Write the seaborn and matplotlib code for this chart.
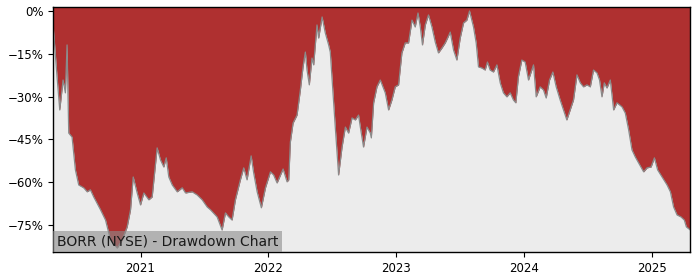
import matplotlib
matplotlib.use("Agg")
import matplotlib.pyplot as plt
import matplotlib.ticker as mticker
import numpy as np
import pandas as pd
import seaborn as sns

# Decimal-year positions
years = [
    2020.320, 2020.349, 2020.370, 2020.396, 2020.414, 2020.427, 2020.440, 2020.466, 2020.492, 2020.518,
    2020.557, 2020.584, 2020.609, 2020.635, 2020.688, 2020.727, 2020.766, 2020.818, 2020.857, 2020.896,
    2020.922, 2020.943, 2020.974, 2021.000, 2021.026, 2021.065, 2021.091, 2021.130, 2021.156, 2021.182,
    2021.201, 2021.221, 2021.248, 2021.287, 2021.326, 2021.352, 2021.404, 2021.443, 2021.482, 2021.521,
    2021.547, 2021.599, 2021.638, 2021.664, 2021.690, 2021.716, 2021.742, 2021.781, 2021.807, 2021.833,
    2021.865, 2021.885, 2021.912, 2021.945, 2021.977, 2022.016, 2022.041, 2022.068, 2022.115, 2022.146,
    2022.159, 2022.172, 2022.193, 2022.224, 2022.250, 2022.271, 2022.289, 2022.302, 2022.320, 2022.341,
    2022.354, 2022.380, 2022.393, 2022.420, 2022.445, 2022.471, 2022.484, 2022.505, 2022.523, 2022.549,
    2022.576, 2022.602, 2022.627, 2022.654, 2022.680, 2022.705, 2022.719, 2022.744, 2022.771, 2022.797,
    2022.805, 2022.823, 2022.849, 2022.875, 2022.914, 2022.940, 2022.966, 2022.992, 2023.018, 2023.044,
    2023.070, 2023.096, 2023.123, 2023.148, 2023.170, 2023.188, 2023.205, 2023.227, 2023.252, 2023.279,
    2023.305, 2023.330, 2023.357, 2023.383, 2023.401, 2023.422, 2023.448, 2023.474, 2023.500, 2023.526,
    2023.552, 2023.573, 2023.604, 2023.625, 2023.643, 2023.670, 2023.695, 2023.713, 2023.734, 2023.760,
    2023.787, 2023.813, 2023.838, 2023.865, 2023.891, 2023.916, 2023.935, 2023.955, 2023.982, 2024.008,
    2024.034, 2024.073, 2024.094, 2024.125, 2024.151, 2024.172, 2024.198, 2024.224, 2024.250, 2024.281,
    2024.307, 2024.333, 2024.359, 2024.385, 2024.412, 2024.438, 2024.463, 2024.490, 2024.516, 2024.541,
    2024.568, 2024.588, 2024.607, 2024.625, 2024.646, 2024.672, 2024.698, 2024.724, 2024.763, 2024.789,
    2024.815, 2024.841, 2024.867, 2024.893, 2024.932, 2024.959, 2024.990, 2025.016, 2025.041, 2025.076,
    2025.115, 2025.141, 2025.166, 2025.193, 2025.224, 2025.250, 2025.266, 2025.297,
]

# Drawdown from running peak, percent
drawdown = [
    -6.0, -23.1, -34.7, -24.2, -28.7, -11.9, -42.8, -44.2, -55.7, -61.0,
    -62.0, -63.4, -62.7, -65.2, -69.7, -73.3, -80.3, -83.1, -80.3, -75.7,
    -69.7, -58.2, -63.8, -68.0, -63.8, -66.2, -65.2, -48.0, -52.2, -54.7,
    -51.5, -58.2, -61.0, -63.4, -62.0, -63.8, -63.4, -64.5, -66.2, -68.7,
    -69.7, -72.2, -76.8, -70.8, -72.2, -73.3, -66.2, -59.2, -55.0, -59.2,
    -50.8, -56.8, -63.4, -69.0, -62.0, -56.4, -57.5, -60.3, -55.4, -59.9,
    -59.2, -45.9, -39.3, -36.5, -27.7, -19.6, -14.4, -20.7, -25.9, -16.5,
    -18.9, -4.9, -9.5, -2.1, -7.7, -11.9, -14.4, -28.7, -40.7, -57.5,
    -47.7, -40.7, -42.8, -37.5, -38.2, -36.5, -40.7, -47.7, -40.7, -42.8,
    -44.5, -32.2, -26.6, -24.2, -28.7, -34.7, -31.2, -26.6, -25.9, -14.7,
    -11.2, -11.2, -3.2, -5.6, -0.7, -5.6, -11.9, -4.9, -1.4, -5.6,
    -10.9, -14.7, -13.0, -11.2, -9.5, -7.4, -13.7, -17.2, -9.5, -4.2,
    -3.2, 0.0, -5.6, -11.2, -19.6, -20.0, -20.7, -17.9, -20.7, -21.4,
    -18.9, -25.2, -28.7, -30.1, -28.7, -31.2, -32.2, -23.1, -17.2, -17.9,
    -24.2, -18.9, -30.1, -26.6, -27.7, -30.5, -24.2, -21.4, -26.6, -31.2,
    -34.7, -38.2, -34.7, -31.2, -22.4, -25.2, -26.6, -25.9, -26.6, -20.7,
    -21.7, -24.2, -30.1, -25.2, -27.0, -24.2, -34.7, -32.2, -33.6, -35.8,
    -41.7, -48.7, -51.2, -53.3, -56.4, -55.0, -54.7, -51.5, -55.7, -58.2,
    -61.0, -63.4, -68.7, -71.5, -72.2, -73.3, -75.7, -76.8,
]

ytick_values = [0, -15, -30, -45, -60, -75]
xtick_years = [2021, 2022, 2023, 2024, 2025]
title_text = "BORR (NYSE) - Drawdown Chart"


def year_to_date(y):
    yr = int(np.floor(y))
    start = pd.Timestamp(year=yr, month=1, day=1)
    end = pd.Timestamp(year=yr + 1, month=1, day=1)
    return start + (end - start) * (y - yr)


df = pd.DataFrame({
    "date": [year_to_date(y) for y in years],
    "drawdown": drawdown,
})

fig = plt.figure(figsize=(7.0, 2.8), dpi=100)
ax = fig.add_axes([0.0762, 0.099, 0.9100, 0.875])
ax.set_facecolor("#ececec")

ylo, yhi = -84.6, 1.3
ax.set_ylim(ylo, yhi)
ax.fill_between(df["date"], df["drawdown"], yhi + 5, color="#af3030", linewidth=0)
sns.lineplot(data=df, x="date", y="drawdown", ax=ax, color="#8a8a8a", linewidth=0.9)

ax.set_xlim(df["date"].iloc[0], df["date"].iloc[-1])
ax.set_ylim(ylo, yhi)

ax.set_yticks(ytick_values)
ax.yaxis.set_major_formatter(mticker.FuncFormatter(
    lambda v, p: ("\u2212" if v < 0 else "") + f"{abs(v):.0f}%"))
ax.set_xticks([pd.Timestamp(year=y, month=1, day=1) for y in xtick_years])
ax.set_xticklabels([str(y) for y in xtick_years])
ax.tick_params(labelsize=8.5, length=3.5, width=0.8)
ax.set_xlabel("")
ax.set_ylabel("")
for s in ax.spines.values():
    s.set_color("black")
    s.set_linewidth(1.0)

ax.text(0.0055, 0.017, title_text, transform=ax.transAxes, fontsize=10,
        ha="left", va="bottom", color="#1a1a1a",
        bbox=dict(facecolor="#8c8c8c", alpha=0.6, edgecolor="none", pad=2.6))

fig.savefig("out.png", dpi=100)
